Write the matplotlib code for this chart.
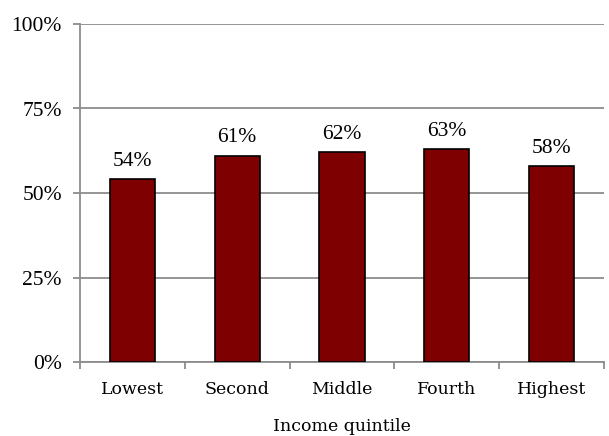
import numpy as np
import matplotlib
matplotlib.use("Agg")
import matplotlib.pyplot as plt
import matplotlib.ticker as ticker

# Data
categories = ["Lowest", "Second", "Middle", "Fourth", "Highest"]
values = [54, 61, 62, 63, 58]
y_ticks = [0, 25, 50, 75, 100]

fig = plt.figure(figsize=(6.09, 4.36), dpi=100)
ax = fig.add_axes([80 / 609, 1 - 362 / 436, 524 / 609, 338 / 436])

grey = "#8c8c8c"
serif = ["Liberation Serif", "DejaVu Serif"]
x = np.arange(len(categories))
bars = ax.bar(x, values, width=0.43, color="#7f0000", edgecolor="black",
              linewidth=1.2, zorder=3)

# Value labels above the bars
for b, v in zip(bars, values):
    ax.annotate(f"{v}%", (b.get_x() + b.get_width() / 2, b.get_height()),
                xytext=(0, 6), textcoords="offset points", ha="center",
                va="bottom", fontsize=15.5, family=serif)

ax.set_xlim(-0.5, len(categories) - 0.5)
ax.set_ylim(0, 100)

# y axis
ax.set_yticks(y_ticks)
ax.yaxis.set_major_formatter(ticker.FuncFormatter(lambda v, p: f"{v:.0f}%"))
for lab in ax.get_yticklabels():
    lab.set_family(serif)
    lab.set_fontsize(15.5)
ax.grid(axis="y", color=grey, linewidth=1.3, zorder=0)

# x axis: ticks at category boundaries, labels centred
ax.set_xticks(np.arange(-0.5, len(categories), 1.0))
ax.set_xticklabels([])
ax.set_xticks(x, minor=True)
ax.set_xticklabels(categories, minor=True, family="DejaVu Serif", fontsize=12.5)
ax.tick_params(axis="x", which="minor", length=0, pad=14)
ax.tick_params(axis="x", which="major", length=5, width=1.3, color=grey)
ax.tick_params(axis="y", length=5, width=1.3, color=grey, pad=8)
ax.set_xlabel("Income quintile", family="DejaVu Serif", fontsize=12.5, labelpad=14)

for side in ["top", "right"]:
    ax.spines[side].set_visible(False)
for side in ["left", "bottom"]:
    ax.spines[side].set_color(grey)
    ax.spines[side].set_linewidth(1.3)

fig.savefig("out.png", dpi=100)
